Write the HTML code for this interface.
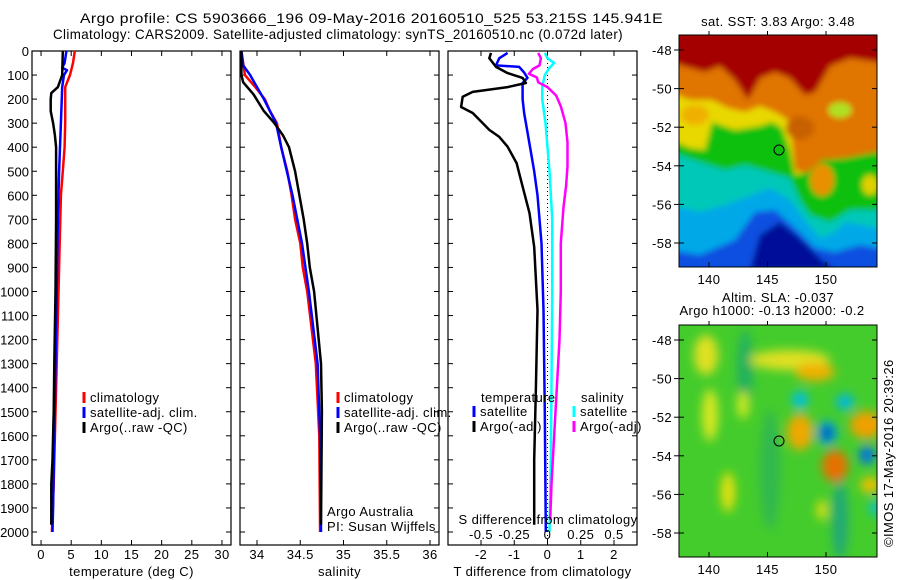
<!DOCTYPE html>
<html><head><meta charset="utf-8">
<style>
html,body{margin:0;padding:0;background:#fff;}
svg{display:block;font-family:"Liberation Sans",sans-serif;}
svg text{letter-spacing:0.4px;}
svg text.nd{letter-spacing:0;}
</style></head>
<body>
<svg id="fig" width="900" height="580" viewBox="0 0 900 580">
<defs>
<filter id="blur3" x="-20%" y="-20%" width="140%" height="140%"><feGaussianBlur stdDeviation="3"/></filter>
<filter id="blur5" x="-50%" y="-50%" width="200%" height="200%"><feGaussianBlur stdDeviation="5"/></filter>
<clipPath id="clipTop"><rect x="679" y="35" width="198" height="232"/></clipPath>
<clipPath id="clipBot"><rect x="679" y="325" width="198" height="232"/></clipPath>
</defs>
<text x="80" y="23" font-size="14" textLength="583" lengthAdjust="spacingAndGlyphs">Argo profile: CS 5903666_196 09-May-2016 20160510_525 53.215S 145.941E</text>
<text x="53" y="39" font-size="14" textLength="570" lengthAdjust="spacingAndGlyphs">Climatology: CARS2009. Satellite-adjusted climatology: synTS_20160510.nc (0.072d later)</text>

<g id="panels"></g>

<!-- Top map: SST -->
<g>
<text x="778" y="26" font-size="13" text-anchor="middle">sat. SST: 3.83 Argo: 3.48</text>
<g clip-path="url(#clipTop)" filter="url(#blur3)">
<rect x="670" y="30" width="220" height="245" fill="#a40000"/>
<path d="M670,62 L690,68 L705,72 L720,66 L735,80 L748,100 L760,78 L775,72 L790,78 L805,95 L815,92 L830,66 L850,58 L877,62 L890,62 L890,280 L670,280Z" fill="#e07400"/>
<path d="M670,92 L690,100 L712,100 L728,108 L745,112 L760,106 L775,112 L788,120 L792,140 L795,170 L810,175 L830,170 L850,165 L877,160 L890,160 L890,280 L670,280Z" fill="#e8d800"/>
<path d="M670,140 L690,148 L705,150 L712,122 L735,130 L760,126 L772,122 L782,128 L790,150 L795,175 L808,172 L822,160 L845,158 L877,152 L890,152 L890,280 L670,280Z" fill="#10c010"/>
<path d="M670,152 L700,162 L725,170 L745,165 L770,172 L790,178 L800,200 L810,215 L830,222 L850,210 L877,210 L890,210 L890,280 L670,280Z" fill="#00c8b8"/>
<path d="M670,205 L700,212 L725,205 L750,196 L770,188 L790,200 L805,220 L820,238 L835,232 L845,222 L877,228 L890,228 L890,280 L670,280Z" fill="#00a8e8"/>
<path d="M670,250 L700,255 L735,240 L755,212 L775,210 L795,228 L815,248 L835,252 L860,245 L877,248 L890,248 L890,280 L670,280Z" fill="#1050e0"/>
<path d="M760,235 L780,222 L800,238 L820,258 L835,270 L750,270Z" fill="#000a98"/>
<ellipse cx="822" cy="180" rx="12" ry="16" fill="#e89000"/>
<ellipse cx="800" cy="128" rx="14" ry="12" fill="#c86000"/>
<ellipse cx="840" cy="110" rx="12" ry="8" fill="#b0e020"/>
<ellipse cx="870" cy="185" rx="8" ry="10" fill="#e0d000"/>
<ellipse cx="695" cy="115" rx="14" ry="10" fill="#f0b000"/>
</g>
<rect x="679" y="35" width="198" height="232" fill="none" stroke="#000"/>
<circle cx="779" cy="150" r="5" fill="none" stroke="#000"/>
<g id="topMapAxes"></g>
</g>

<!-- Bottom map: SLA -->
<g>
<text x="778" y="302" font-size="13" text-anchor="middle">Altim. SLA: -0.037</text>
<text x="772" y="315" font-size="13" text-anchor="middle">Argo h1000: -0.13 h2000: -0.2</text>
<g clip-path="url(#clipBot)">
<rect x="679" y="325" width="198" height="232" fill="#44cc2c"/>
<g filter="url(#blur5)">
<ellipse cx="745" cy="370" rx="8" ry="40" fill="#20b060"/>
<ellipse cx="770" cy="470" rx="10" ry="60" fill="#30b850"/>
<ellipse cx="840" cy="520" rx="8" ry="40" fill="#20a878"/>
<ellipse cx="706" cy="355" rx="12" ry="20" fill="#e0e020"/>
<ellipse cx="710" cy="415" rx="8" ry="26" fill="#d8e820"/>
<ellipse cx="728" cy="492" rx="7" ry="20" fill="#e8e010"/>
<ellipse cx="790" cy="360" rx="40" ry="10" fill="#e0e020"/>
<ellipse cx="815" cy="372" rx="20" ry="9" fill="#f0b000"/>
<ellipse cx="743" cy="405" rx="6" ry="14" fill="#d0e820"/>
<ellipse cx="800" cy="432" rx="13" ry="18" fill="#f0a800"/>
<ellipse cx="835" cy="466" rx="13" ry="16" fill="#e87000"/>
<ellipse cx="866" cy="425" rx="16" ry="14" fill="#f0a000"/>
<ellipse cx="870" cy="485" rx="10" ry="8" fill="#f0c000"/>
<ellipse cx="822" cy="510" rx="5" ry="10" fill="#e8e010"/>
<ellipse cx="800" cy="400" rx="8" ry="9" fill="#00c0e0"/>
<ellipse cx="845" cy="402" rx="9" ry="8" fill="#00b8e0"/>
<ellipse cx="827" cy="433" rx="10" ry="12" fill="#00a0e8"/>
<ellipse cx="827" cy="433" rx="5" ry="6" fill="#0010a0"/>
<ellipse cx="867" cy="455" rx="8" ry="9" fill="#0070e8"/>
<ellipse cx="875" cy="508" rx="5" ry="8" fill="#00c0e0"/>
</g>
</g>
<rect x="679" y="325" width="198" height="232" fill="none" stroke="#000"/>
<circle cx="779" cy="441" r="5" fill="none" stroke="#000"/>
<g id="botMapAxes"></g>
<text transform="translate(893,547) rotate(-90)" font-size="13">©IMOS 17-May-2016 20:39:26</text>
</g>
</svg>

<script>
// ---------- data ----------
const depthTicks = [0,100,200,300,400,500,600,700,800,900,1000,1100,1200,1300,1400,1500,1600,1700,1800,1900,2000];
const tempTicks = [0,5,10,15,20,25,30];
const salTicks = [34,34.5,35,35.5,36];
const tdiffTicks = [-2,-1,0,1,2];
const sdiffTicks = [-0.5,-0.25,0,0.25,0.5];
const sdiffTickLabels = ["-0.5","-0.25","0","0.25","0.5"];

const tempClimDepth = [0,50,100,150,200,300,400,500,600,800,1000,1200,1500,1800,2000];
const tempClim      = [5.6,5.3,4.8,4.0,4.0,4.0,3.9,3.6,3.3,3.1,2.9,2.7,2.4,2.1,1.8];
const tempSatDepth  = [0,50,70,80,100,150,300,500,700,1000,1300,1600,1900,2000];
const tempSat       = [4.2,3.9,3.5,4.3,3.8,3.5,3.3,3.0,2.8,2.6,2.4,2.2,2.0,1.9];
const tempArgoDepth = [0,100,150,175,200,250,300,350,400,500,700,1000,1300,1500,1700,1800,1970];
const tempArgo      = [3.6,3.5,2.8,1.7,1.6,1.6,2.0,2.3,2.5,2.5,2.5,2.4,2.2,2.1,1.9,1.7,1.7];

const salClimDepth = [0,100,150,200,250,300,400,500,600,700,800,900,1000,1300,1600,2000];
const salClim      = [33.82,33.86,33.98,34.09,34.15,34.23,34.28,34.35,34.40,34.44,34.50,34.53,34.58,34.68,34.72,34.73];
const salSatDepth  = [0,60,100,150,200,300,400,600,800,1000,1300,1600,2000];
const salSat       = [33.82,33.84,33.92,34.00,34.08,34.22,34.28,34.41,34.52,34.60,34.70,34.73,34.74];
const salArgoDepth = [0,100,130,180,250,300,350,400,500,600,700,800,900,1000,1300,1500,1970];
const salArgo      = [33.82,33.82,33.84,33.96,34.08,34.20,34.30,34.37,34.44,34.49,34.54,34.58,34.61,34.66,34.74,34.75,34.74];

const tdSatDepth  = [8,30,60,66,90,112,133,170,200,260,300,420,500,600,700,800,1077,1500,2000];
const tdSat       = [-1.2,-1.45,-1.55,-0.85,-0.7,-0.6,-0.75,-0.75,-0.75,-0.7,-0.65,-0.5,-0.4,-0.3,-0.24,-0.18,-0.12,-0.08,-0.05];
const tdArgoDepth = [8,30,66,92,112,133,150,170,190,233,258,300,328,357,398,466,536,674,815,1077,1400,1700,1970];
const tdArgo      = [-1.7,-1.75,-1.55,-1.2,-0.75,-0.65,-1.2,-2.25,-2.55,-2.6,-2.25,-1.95,-1.75,-1.45,-1.2,-0.93,-0.8,-0.54,-0.4,-0.3,-0.35,-0.4,-0.4];
const sdSatDepth  = [8,30,50,70,100,150,200,300,500,700,1000,1400,1700,2000];
const sdSat       = [-0.02,0,0.05,0.015,-0.02,-0.04,-0.04,-0.015,0.015,0.035,0.035,0.03,0.025,0.015];
const sdArgoDepth = [8,30,60,75,95,110,130,150,185,230,300,380,480,560,650,800,1000,1200,1500,1800,1950];
const sdArgo      = [-0.07,-0.05,-0.06,-0.11,-0.14,-0.08,-0.07,0,0.065,0.1,0.135,0.15,0.15,0.14,0.12,0.1,0.1,0.09,0.06,0.03,0.02];

const mapLatTicks = [-48,-50,-52,-54,-56,-58];
const mapLonTicks = [140,145,150];

// ---------- helpers ----------
const NS = "http://www.w3.org/2000/svg";
const Y0 = 51, YB = 545, depthScale = 0.2405;
function yD(d){ return Y0 + d*depthScale; }
function mk(tag, attrs, parent){
  const e = document.createElementNS(NS, tag);
  for (const k in attrs) e.setAttribute(k, attrs[k]);
  parent.appendChild(e);
  return e;
}
const root = document.getElementById('panels');

function linScale(v0, v1, p0, p1){ return v => p0 + (v - v0)*(p1 - p0)/(v1 - v0); }

function drawPanel(name, x0, x1, xs, ticks, tickLabels, xlabel, leftLabels){
  const g = mk('g', {}, root);
  
  
  const fr = mk('rect', {x:x0, y:Y0, width:x1-x0, height:YB-Y0, fill:'none', stroke:'#000', 'stroke-width':1.2}, g);
  
  
  ticks.forEach((t,i)=>{
    const x = xs(t);
    mk('line', {x1:x, x2:x, y1:YB, y2:YB-5, stroke:'#000'}, g);
    mk('line', {x1:x, x2:x, y1:Y0, y2:Y0+5, stroke:'#000'}, g);
    if (tickLabels){
      const tl = mk('text', {x:x, y:YB+14, 'font-size':13, 'text-anchor':'middle'}, g);
      tl.textContent = tickLabels[i];
      
      
    }
  });
  depthTicks.forEach(d=>{
    const y = yD(d);
    mk('line', {x1:x0, x2:x0+5, y1:y, y2:y, stroke:'#000'}, g);
    mk('line', {x1:x1, x2:x1-5, y1:y, y2:y, stroke:'#000'}, g);
    if (leftLabels){
      const tl = mk('text', {x:x0-3, y:y+5, 'font-size':13, 'text-anchor':'end', 'class':'nd'}, g);
      tl.textContent = String(d);
      
      
    }
  });
  const xl = mk('text', {x:(x0+x1)/2, y:576, 'font-size':13, 'text-anchor':'middle'}, g);
  xl.textContent = xlabel;
  
  
  return g;
}

function drawLine(g, name, depths, vals, xs, color){
  let d = '';
  for (let i=0;i<depths.length;i++){
    d += (i ? 'L' : 'M') + xs(vals[i]).toFixed(1) + ',' + yD(depths[i]).toFixed(1);
  }
  const p = mk('path', {d:d, fill:'none', stroke:color, 'stroke-width':2.5, 'stroke-linejoin':'round'}, g);
  
  
}

function legendEntry(g, name, x, y, color, label){
  const ln = mk('line', {x1:x, x2:x, y1:y-10, y2:y+1, stroke:color, 'stroke-width':3}, g);
  
  
  const t = mk('text', {x:x+6, y:y, 'font-size':13}, g);
  t.textContent = label;
  
  
}

function txt(g, name, x, y, s, anchor){
  const t = mk('text', {x:x, y:y, 'font-size':13, 'text-anchor':anchor||'start'}, g);
  t.textContent = s;
  
  
}

// ---------- panel 1: temperature ----------
const xT = linScale(-1.5, 31.5, 32, 231);
const g1 = drawPanel('temperature-panel', 32, 231, xT, tempTicks, tempTicks.map(String), 'temperature (deg C)', true);
drawLine(g1, 'temp-climatology-line', tempClimDepth, tempClim, xT, '#ff0000');
drawLine(g1, 'temp-satellite-line', tempSatDepth, tempSat, xT, '#0000ff');
drawLine(g1, 'temp-argo-line', tempArgoDepth, tempArgo, xT, '#000000');
legendEntry(g1, 'legend-climatology', 84, 402, '#ff0000', 'climatology');
legendEntry(g1, 'legend-satellite-adj', 84, 417, '#0000ff', 'satellite-adj. clim.');
legendEntry(g1, 'legend-argo-raw', 84, 432, '#000000', 'Argo(..raw -QC)');

// ---------- panel 2: salinity ----------
const xS = linScale(34, 36, 257, 430);
const g2 = drawPanel('salinity-panel', 240, 439, xS, salTicks, salTicks.map(String), 'salinity', false);
drawLine(g2, 'sal-climatology-line', salClimDepth, salClim, xS, '#ff0000');
drawLine(g2, 'sal-satellite-line', salSatDepth, salSat, xS, '#0000ff');
drawLine(g2, 'sal-argo-line', salArgoDepth, salArgo, xS, '#000000');
legendEntry(g2, 'legend-climatology-2', 338, 402, '#ff0000', 'climatology');
legendEntry(g2, 'legend-satellite-adj-2', 338, 417, '#0000ff', 'satellite-adj. clim.');
legendEntry(g2, 'legend-argo-raw-2', 338, 432, '#000000', 'Argo(..raw -QC)');
txt(g2, 'argo-australia-label', 327, 516, 'Argo Australia');
txt(g2, 'pi-label', 327, 531, 'PI: Susan Wijffels');

// ---------- panel 3: differences ----------
const xTD = linScale(-2, 2, 481, 614);
const xSD = linScale(-0.5, 0.5, 481, 614);
const g3 = drawPanel('difference-panel', 448, 637, xTD, tdiffTicks, tdiffTicks.map(String), 'T difference from climatology', false);
const zl = mk('line', {x1:xTD(0), x2:xTD(0), y1:Y0, y2:YB, stroke:'#000', 'stroke-dasharray':'1,3'}, g3);


drawLine(g3, 'tdiff-satellite-line', tdSatDepth, tdSat, xTD, '#0000ff');
drawLine(g3, 'tdiff-argo-line', tdArgoDepth, tdArgo, xTD, '#000000');
drawLine(g3, 'sdiff-satellite-line', sdSatDepth, sdSat, xSD, '#00ffff');
drawLine(g3, 'sdiff-argo-line', sdArgoDepth, sdArgo, xSD, '#ff00ff');
txt(g3, 'legend-temperature-header', 481, 402, 'temperature');
txt(g3, 'legend-salinity-header', 581, 402, 'salinity');
legendEntry(g3, 'legend-t-satellite', 474, 416, '#0000ff', 'satellite');
legendEntry(g3, 'legend-t-argo', 474, 431, '#000000', 'Argo(-adj)');
legendEntry(g3, 'legend-s-satellite', 574, 416, '#00ffff', 'satellite');
legendEntry(g3, 'legend-s-argo', 574, 431, '#ff00ff', 'Argo(-adj)');
txt(g3, 's-diff-axis-title', 548, 524, 'S difference from climatology', 'middle');
sdiffTicks.forEach((v,i)=>{ txt(g3, 's-diff-tick-label', xSD(v), 539, sdiffTickLabels[i], 'middle'); });

// ---------- map axes ----------
function mapAxes(id, prefix, top, bot, latTop){
  const g = document.getElementById(id);
  const lat = v => latTop + (-48 - v)*19.3;
  const lon = v => 709 + (v - 140)*11.7;
  mapLatTicks.forEach(v=>{
    const y = lat(v);
    mk('line', {x1:679, x2:684, y1:y, y2:y, stroke:'#000'}, g);
    mk('line', {x1:877, x2:872, y1:y, y2:y, stroke:'#000'}, g);
    mk('line', {x1:674, x2:679, y1:y, y2:y, stroke:'#000'}, g);
    txt(g, prefix + '-lat-tick-label', 672, y+5, String(v), 'end');
  });
  mapLonTicks.forEach(v=>{
    const x = lon(v);
    mk('line', {x1:x, x2:x, y1:bot, y2:bot-5, stroke:'#000'}, g);
    mk('line', {x1:x, x2:x, y1:top, y2:top-4, stroke:'#000'}, g);
    txt(g, prefix + '-lon-tick-label', x, bot+17, String(v), 'middle');
  });
}
mapAxes('topMapAxes', 'sst-map', 35, 267, 50);
mapAxes('botMapAxes', 'sla-map', 325, 557, 340);
</script>
</body></html>
